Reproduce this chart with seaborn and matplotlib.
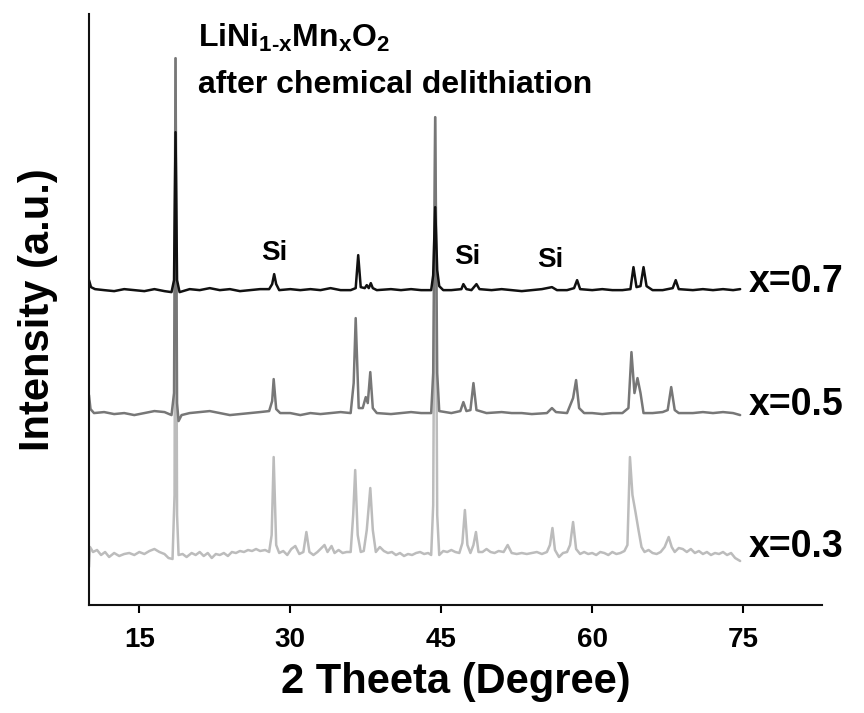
import numpy as np
import pandas as pd
import matplotlib
matplotlib.use("Agg")
import matplotlib.pyplot as plt
import seaborn as sns


# XRD patterns: 2-theta (deg) and intensity above each trace's own baseline (a.u.)
theta_07 = [10.0, 10.2, 10.6, 11.5, 12.5, 13.5, 14.5, 15.5, 16.5, 17.5, 18.2, 18.45, 18.6, 18.75, 19.0,
            20, 21, 22, 23, 24, 25, 26, 27, 27.9, 28.2, 28.4, 28.6, 28.9, 30, 31, 32, 33, 34, 35, 36,
            36.5, 36.75, 37.0, 37.4, 37.6, 37.8, 38.0, 38.2, 38.6, 40, 41, 42, 43, 44.0, 44.2, 44.4,
            44.6, 44.8, 45.2, 46, 47.0, 47.2, 47.5, 48.0, 48.5, 48.8, 50, 51, 52, 53, 54, 55, 56.0, 56.5,
            57.5, 58.2, 58.5, 58.8, 60, 61, 62, 63, 63.8, 64.1, 64.4, 64.8, 65.1, 65.4, 66, 67, 68.0,
            68.3, 68.6, 70, 71, 72, 73, 74, 74.7]
int_07 = [10, 3, 1, 0, -1, 1, 0, -1, 1, -1, -2, 10, 158, 10, -2,
          1, 0, 2, 0, 1, -1, 0, 1, 1, 6, 16, 6, 0, 1, 0, 1, 0, 2, 0, 0,
          2, 35, 3, 2, 5, 2, 7, 2, 0, 1, 0, 1, 0, 0, 15, 83,
          20, 4, 0, 0, 1, 6, 1, 0, 6, 1, 0, 1, 0, -1, 0, 1, 3, 0,
          0, 2, 10, 1, 0, 1, 0, 0, 1, 23, 3, 4, 23, 4, 0, 0, 2,
          10, 1, 0, 1, 0, 1, 0, 1]

theta_05 = [10.0, 10.15, 10.5, 11.5, 12.5, 13.5, 14.5, 15.5, 16.5, 17.5, 18.2, 18.45, 18.6, 18.75, 18.9,
            19.2, 20, 21, 22, 23, 24, 25, 26, 27, 27.9, 28.2, 28.35, 28.6, 29, 30, 31, 32, 33, 34, 35,
            36.0, 36.3, 36.5, 36.8, 37.2, 37.5, 37.7, 37.95, 38.2, 38.6, 40, 41, 42, 43, 44.0, 44.2,
            44.4, 44.6, 44.8, 46, 46.9, 47.2, 47.5, 47.9, 48.2, 48.5, 49.5, 51, 52, 53, 54, 55.5, 56.0,
            56.4, 57.5, 58.1, 58.4, 58.7, 59.2, 60, 61, 62, 63, 63.6, 63.9, 64.2, 64.5, 64.8, 65.1, 66,
            67, 67.5, 67.85, 68.2, 68.6, 70, 71, 72, 73, 74, 74.7]
int_05 = [18, 4, 0, 1, -1, 0, -2, 0, 2, 1, -2, 20, 355, 10, -8,
          -2, 0, 1, 2, 0, -2, -1, 0, 1, 2, 12, 34, 4, 0, 0, -2, 0, -1, 0, 1,
          0, 30, 95, 5, 5, 16, 10, 41, 5, 0, -1, 0, 1, 0, 0, 40,
          296, 40, 2, 0, 2, 11, 2, 3, 30, 3, 0, 1, 0, 0, -1, 0, 5,
          1, 0, 15, 33, 5, 0, 0, -1, 0, 0, 5, 61, 20, 35, 20, 0, 0,
          1, 3, 26, 3, 0, 0, 1, 0, 1, 0, -2]

theta_03 = [10.0, 10.1, 10.4, 10.8, 11.2, 11.6, 12.0, 12.5, 13.0, 13.5, 14.0, 14.5, 15.0, 15.5, 16.0,
            16.5, 17.0, 17.5, 17.9, 18.3, 18.5, 18.6, 18.75, 18.9, 19.3, 19.7, 20.2, 20.6, 21.0, 21.4,
            21.8, 22.2, 22.6, 23.0, 23.4, 23.8, 24.2, 24.6, 25.0, 25.4, 25.8, 26.2, 26.6, 27.0, 27.5,
            27.9, 28.15, 28.35, 28.6, 28.9, 29.3, 29.7, 30.1, 30.5, 30.9, 31.3, 31.6, 31.9, 32.3, 32.7,
            33.1, 33.4, 33.7, 34.1, 34.4, 34.8, 35.2, 35.6, 36.0, 36.25, 36.45, 36.7, 37.0, 37.3, 37.6,
            37.95, 38.2, 38.5, 38.9, 39.3, 39.7, 40.1, 40.5, 40.9, 41.3, 41.7, 42.1, 42.5, 42.9, 43.3,
            43.7, 44.0, 44.2, 44.4, 44.6, 44.8, 45.2, 45.6, 46.0, 46.4, 46.8, 47.1, 47.35, 47.6, 47.9,
            48.2, 48.45, 48.7, 49.1, 49.5, 49.9, 50.3, 50.7, 51.2, 51.6, 52.0, 52.5, 53.0, 53.5, 54.0,
            54.5, 55.0, 55.5, 55.8, 56.05, 56.3, 56.7, 57.1, 57.5, 57.8, 58.1, 58.4, 58.8, 59.2, 59.6,
            60.0, 60.4, 60.8, 61.2, 61.6, 62.0, 62.4, 62.8, 63.2, 63.5, 63.75, 64.0, 64.3, 64.6, 64.9,
            65.2, 65.6, 66.0, 66.4, 66.8, 67.2, 67.6, 67.9, 68.2, 68.6, 69.0, 69.4, 69.8, 70.2, 70.6,
            71.0, 71.4, 71.8, 72.2, 72.6, 73.0, 73.4, 73.8, 74.2, 74.7]
int_03 = [-12, 8, 3, 5, 0, 3, -2, 2, -1, 1, 2, 0, 3, 1, 4,
          6, 3, 1, -3, -4, 60, 497, 40, 0, 1, -2, 2, 0, 3, -1,
          2, -3, 1, 0, 2, -1, 3, 2, 4, 3, 5, 4, 6, 4, 5,
          3, 20, 98, 10, 2, 4, 0, 6, 9, 1, 3, 23, 3, 0, 3,
          7, 10, 3, 9, 2, 5, 2, 3, 3, 40, 85, 20, 3, 4, 25,
          67, 25, 3, 8, 4, 2, 3, 0, 2, -1, 1, 0, 2, 3, 1,
          2, 0, 50, 438, 40, 0, 4, 3, 5, 3, 2, 12, 45, 10, 2,
          10, 23, 3, 3, 6, 3, 2, 4, 3, 10, 2, 1, 2, 1, 2,
          3, 1, 3, 10, 27, 5, -2, 2, 3, 10, 33, 6, 1, 3, 1,
          2, 0, 3, 2, 0, 3, 1, 2, 4, 10, 98, 60, 43, 25, 8,
          3, 5, 2, 1, 3, 8, 18, 8, 3, 7, 6, 3, 6, 2, 4,
          1, 3, 0, 2, 1, 3, 0, 2, -3, -6]

sample_labels = ["x=0.3", "x=0.5", "x=0.7"]
offsets = [50, 192, 315]            # vertical stacking of the patterns
line_colors = ["#bcbcbc", "#777777", "#111111"]

si_theta = [28.4, 47.6, 55.8]
si_height = [352, 348, 345]
xticks = [15, 30, 45, 60, 75]


frames = []
for label, th, inten, off in zip(sample_labels, [theta_03, theta_05, theta_07], [int_03, int_05, int_07], offsets):
    frames.append(pd.DataFrame({"theta": th, "intensity": np.array(inten) + off, "sample": label}))
df = pd.concat(frames, ignore_index=True)

sns.set_style("ticks")
plt.rcParams["font.family"] = ["Liberation Sans", "DejaVu Sans"]
plt.rcParams["font.weight"] = "bold"
plt.rcParams["text.color"] = "black"
plt.rcParams["axes.labelcolor"] = "black"
plt.rcParams["xtick.color"] = "black"
plt.rcParams["mathtext.fontset"] = "custom"
plt.rcParams["mathtext.rm"] = "Liberation Sans:bold"
plt.rcParams["mathtext.it"] = "Liberation Sans:bold"
plt.rcParams["mathtext.bf"] = "Liberation Sans:bold"

fig = plt.figure(figsize = (8.64, 7.13), dpi = 100)
ax = fig.add_axes([0.103, 0.1515, 0.848, 0.8285])

sns.lineplot(data = df, x = "theta", y = "intensity", hue = "sample", palette = dict(zip(sample_labels, line_colors)),
             hue_order = sample_labels, estimator = None, sort = False, linewidth = 1.8, legend = False, ax = ax)

for label, off in zip(sample_labels, offsets):
    ax.text(75.6, off - 2, label, fontsize = 27, fontweight = "bold", va = "baseline", ha = "left")

for th, h in zip(si_theta, si_height):
    ax.text(th, h, "Si", fontsize = 20, fontweight = "bold", ha = "center", va = "center")

ax.text(20.8, 558, r"LiNi$_{1\text{-}x}$Mn$_x$O$_2$", fontsize = 23, fontweight = "bold", va = "baseline")
ax.text(20.8, 512, "after chemical delithiation", fontsize = 23, fontweight = "bold", va = "baseline")

ax.set_xlim(10, 82.8)
ax.set_ylim(0, 591)
ax.set_xticks(xticks)
ax.set_yticks([])
ax.tick_params(axis = "x", direction = "out", length = 6, width = 1.5, labelsize = 20, pad = 10)
for lbl in ax.get_xticklabels():
    lbl.set_fontweight("bold")
ax.set_xlabel("2 Theeta (Degree)", fontsize = 30, fontweight = "bold", labelpad = 6)
ax.set_ylabel("Intensity (a.u.)", fontsize = 30, fontweight = "bold", labelpad = 22)
sns.despine(ax = ax)
for side in ["left", "bottom"]:
    ax.spines[side].set_linewidth(1.5)
    ax.spines[side].set_color("#111111")

fig.savefig("out.png", dpi = 100)
